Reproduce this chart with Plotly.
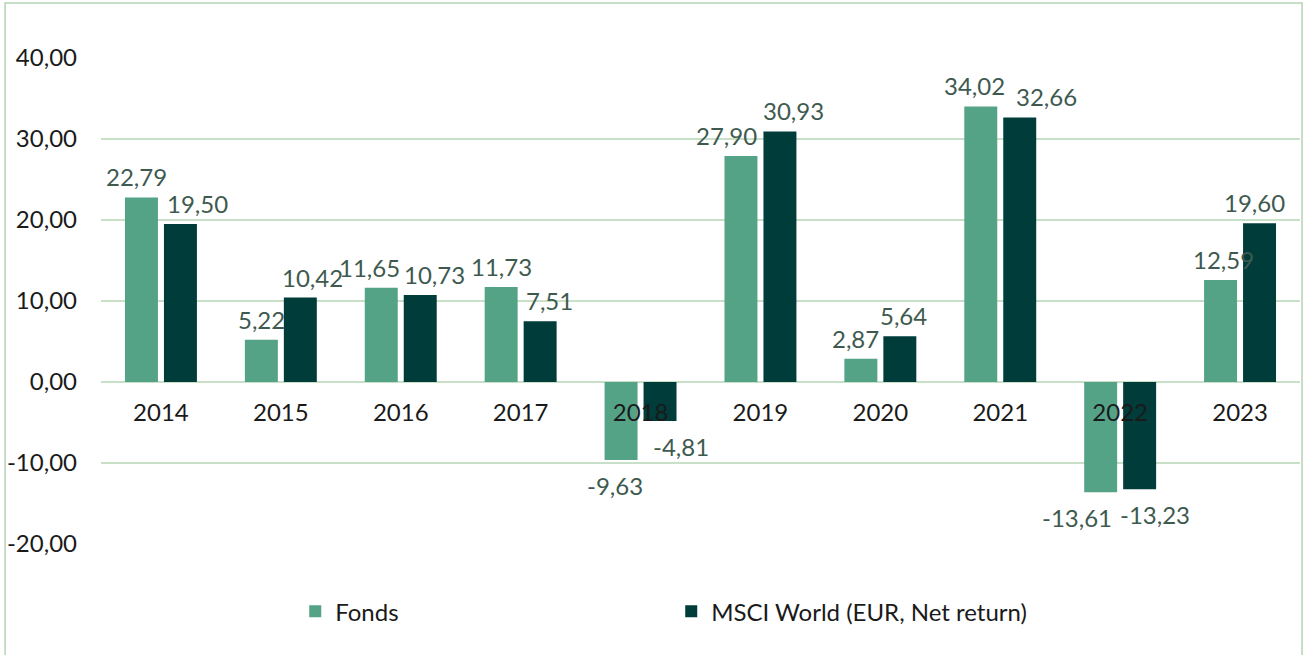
import plotly.graph_objects as go

years = ["2014", "2015", "2016", "2017", "2018", "2019", "2020", "2021", "2022", "2023"]
fonds = [22.79, 5.22, 11.65, 11.73, -9.63, 27.90, 2.87, 34.02, -13.61, 12.59]
msci = [19.50, 10.42, 10.73, 7.51, -4.81, 30.93, 5.64, 32.66, -13.23, 19.60]
series_names = ["Fonds", "MSCI World (EUR, Net return)"]
y_ticks = [-20, -10, 0, 10, 20, 30, 40]

# horizontal nudges (px) of the data labels, as placed in the original chart
fonds_label_nudge = [-5, 0, -12, 0, -6, -14, -5, -6, -24, 3]
msci_label_nudge = [17, 12, 14, 9, 21, 14, 4, 27, 15, -5]


def de_fmt(v):
    return f"{v:.2f}".replace(".", ",")


c_fonds = "#55a386"
c_msci = "#003c3a"
label_color = "#3e5a4f"
grid_color = "#c8dfc8"
txt = "#1a1a1a"
FONT = "Lato"
BARGAP = 0.35

fig = go.Figure()
for name, vals, col in [(series_names[0], fonds, c_fonds), (series_names[1], msci, c_msci)]:
    fig.add_trace(go.Bar(
        x=years, y=vals, name=name, marker=dict(color=col, line=dict(width=0)),
    ))

half_slot = (1 - BARGAP) / 4
annotations = []
for sign, vals, nudges in [(-1, fonds, fonds_label_nudge), (1, msci, msci_label_nudge)]:
    for i, (v, n) in enumerate(zip(vals, nudges)):
        annotations.append(dict(
            x=i + sign * half_slot, y=v, xref="x", yref="y",
            text=de_fmt(v), showarrow=False, xshift=n,
            yanchor="bottom" if v >= 0 else "top",
            yshift=4 if v >= 0 else -9,
            font=dict(family=FONT, size=24, color=label_color),
        ))

fig.update_layout(
    width=1306, height=655,
    margin=dict(l=101, r=6, t=58, b=111, autoexpand=False),
    paper_bgcolor="white", plot_bgcolor="white",
    barmode="group", bargap=BARGAP, bargroupgap=0.154,
    font=dict(family=FONT, size=24, color=txt),
    showlegend=True,
    annotations=annotations,
    legend=dict(orientation="h", x=0.162, xanchor="left", y=-0.093, yanchor="top",
                entrywidth=331, entrywidthmode="pixels",
                font=dict(family=FONT, size=24, color=txt),
                itemsizing="constant"),
    xaxis=dict(type="category", anchor="free", position=1/3, showline=False,
               ticks="", showgrid=False, automargin=False,
               tickfont=dict(family=FONT, size=24, color=txt),
               ticklabelstandoff=14),
    yaxis=dict(range=[-20, 40], tickvals=y_ticks, ticktext=[de_fmt(v) for v in y_ticks],
               showgrid=True, gridcolor=grid_color, gridwidth=1.5,
               zeroline=True, zerolinecolor=grid_color, zerolinewidth=1.5,
               ticks="", ticklabelstandoff=23, domain=[0, 1], automargin=False,
               tickfont=dict(family=FONT, size=24, color=txt)),
)

# outer chart border (left, top, right)
fig.add_shape(type="path", xref="paper", yref="paper",
              path="M -0.08,-0.3 L -0.08,1.113 L 1.0017,1.113 L 1.0017,-0.3",
              line=dict(color="#b5d3b5", width=1.5), layer="below")

fig.write_html(
    "out.html",
    config={"displayModeBar": False},
    post_script="document.body.style.margin='0';document.body.style.overflow='hidden';",
)
